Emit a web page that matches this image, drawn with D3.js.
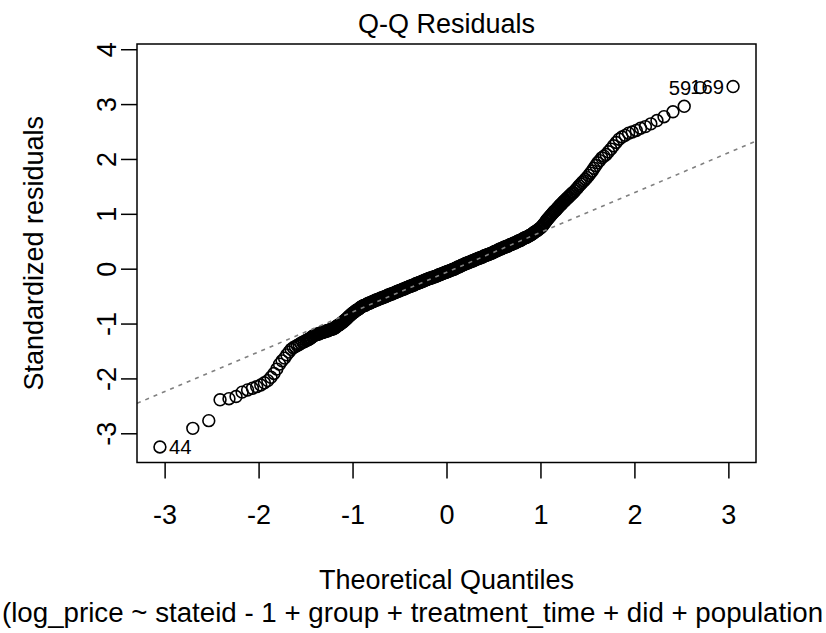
<!DOCTYPE html>
<html>
<head>
<meta charset="utf-8">
<script src="https://cdn.jsdelivr.net/npm/d3@7"></script>
<style>
  html, body { margin: 0; padding: 0; background: #fff; }
  svg { display: block; font-family: "Liberation Sans", Arial, Helvetica, sans-serif; }
</style>
</head>
<body>
<svg id="chart" width="826" height="633"></svg>
<script>
// [theoretical quantile, standardized residual]
const lowerTail = [
  [-3.05,-3.25],[-2.70,-2.91],[-2.53,-2.77],[-2.41,-2.39],[-2.315,-2.37],[-2.24,-2.33],[-2.175,-2.25],[-2.117,-2.21],[-2.065,-2.18],[-2.02,-2.15],
  [-1.977,-2.12],[-1.938,-2.08],[-1.902,-2.04],[-1.868,-1.98],[-1.836,-1.91],[-1.806,-1.83],[-1.777,-1.74],[-1.75,-1.68],[-1.724,-1.63],[-1.70,-1.57],
  [-1.676,-1.52],[-1.653,-1.47],[-1.631,-1.44],[-1.609,-1.42],[-1.589,-1.40],[-1.569,-1.38],[-1.55,-1.36],[-1.531,-1.34],[-1.513,-1.33],[-1.495,-1.31]
];
const coreLow = [
  [-1.48,-1.30],[-1.47,-1.29],[-1.46,-1.28],[-1.45,-1.27],[-1.44,-1.26],[-1.43,-1.24],[-1.42,-1.23],[-1.41,-1.22],[-1.40,-1.21],
  [-1.39,-1.20],[-1.38,-1.20],[-1.37,-1.19],[-1.36,-1.19],[-1.35,-1.18],[-1.34,-1.17],[-1.33,-1.17],[-1.32,-1.16],[-1.31,-1.16],[-1.30,-1.15],
  [-1.29,-1.14],[-1.28,-1.14],[-1.27,-1.13],[-1.26,-1.13],[-1.25,-1.12],[-1.24,-1.11],[-1.23,-1.11],[-1.22,-1.10],[-1.21,-1.10],[-1.20,-1.09],
  [-1.19,-1.08],[-1.18,-1.07],[-1.17,-1.05],[-1.16,-1.04],[-1.15,-1.03],[-1.14,-1.02],[-1.13,-1.01],[-1.12,-0.99],[-1.11,-0.98],[-1.10,-0.97],
  [-1.09,-0.95],[-1.08,-0.94],[-1.07,-0.92],[-1.06,-0.91],[-1.05,-0.89],[-1.04,-0.87],[-1.03,-0.86],[-1.02,-0.84],[-1.01,-0.83],[-1.00,-0.81],
  [-0.99,-0.80],[-0.98,-0.79],[-0.97,-0.77],[-0.96,-0.76],[-0.95,-0.75],[-0.94,-0.74],[-0.93,-0.73],[-0.92,-0.71],[-0.91,-0.70],[-0.90,-0.69],
  [-0.89,-0.68],[-0.88,-0.67],[-0.87,-0.67],[-0.86,-0.66],[-0.85,-0.65],[-0.84,-0.64],[-0.83,-0.63],[-0.82,-0.63],[-0.81,-0.62],[-0.80,-0.61],
  [-0.79,-0.60],[-0.78,-0.60],[-0.77,-0.59],[-0.76,-0.58],[-0.75,-0.57],[-0.74,-0.57],[-0.73,-0.56],[-0.72,-0.55],[-0.71,-0.55],[-0.70,-0.54],
  [-0.69,-0.53],[-0.68,-0.53],[-0.67,-0.52],[-0.66,-0.51],[-0.65,-0.51],[-0.64,-0.50],[-0.63,-0.49],[-0.62,-0.48],[-0.61,-0.48],[-0.60,-0.47],
  [-0.59,-0.46],[-0.58,-0.46],[-0.57,-0.45],[-0.56,-0.44],[-0.55,-0.44],[-0.54,-0.43],[-0.53,-0.42],[-0.52,-0.41],[-0.51,-0.41],[-0.50,-0.40],
  [-0.49,-0.39],[-0.48,-0.39],[-0.47,-0.38],[-0.46,-0.37],[-0.45,-0.37],[-0.44,-0.36],[-0.43,-0.35],[-0.42,-0.34],[-0.41,-0.34],[-0.40,-0.33],
  [-0.39,-0.32],[-0.38,-0.32],[-0.37,-0.31],[-0.36,-0.30],[-0.35,-0.30],[-0.34,-0.29],[-0.33,-0.28],[-0.32,-0.27],[-0.31,-0.27],[-0.30,-0.26],
  [-0.29,-0.25],[-0.28,-0.25],[-0.27,-0.24],[-0.26,-0.23],[-0.25,-0.23],[-0.24,-0.22],[-0.23,-0.21],[-0.22,-0.20],[-0.21,-0.20],[-0.20,-0.19],
  [-0.19,-0.18],[-0.18,-0.18],[-0.17,-0.17],[-0.16,-0.17],[-0.15,-0.16],[-0.14,-0.15],[-0.13,-0.15],[-0.12,-0.14],[-0.11,-0.14],[-0.10,-0.13],
  [-0.09,-0.12],[-0.08,-0.11],[-0.07,-0.11],[-0.06,-0.10],[-0.05,-0.09],[-0.04,-0.09],[-0.03,-0.08],[-0.02,-0.07],[-0.01,-0.07]
];
const coreHigh = [
  [0.00,-0.06],[0.01,-0.05],[0.02,-0.05],[0.03,-0.04],[0.04,-0.03],[0.05,-0.03],[0.06,-0.02],[0.07,-0.01],[0.08,-0.01],[0.09,0.00],[0.10,0.01],
  [0.11,0.02],[0.12,0.03],[0.13,0.03],[0.14,0.04],[0.15,0.05],[0.16,0.06],[0.17,0.07],[0.18,0.07],[0.19,0.08],[0.20,0.09],
  [0.21,0.10],[0.22,0.10],[0.23,0.11],[0.24,0.12],[0.25,0.12],[0.26,0.13],[0.27,0.14],[0.28,0.14],[0.29,0.15],[0.30,0.16],
  [0.31,0.17],[0.32,0.17],[0.33,0.18],[0.34,0.19],[0.35,0.19],[0.36,0.20],[0.37,0.21],[0.38,0.21],[0.39,0.22],[0.40,0.23],
  [0.41,0.24],[0.42,0.24],[0.43,0.25],[0.44,0.26],[0.45,0.26],[0.46,0.27],[0.47,0.28],[0.48,0.28],[0.49,0.29],[0.50,0.30],
  [0.51,0.31],[0.52,0.32],[0.53,0.32],[0.54,0.33],[0.55,0.34],[0.56,0.35],[0.57,0.36],[0.58,0.36],[0.59,0.37],[0.60,0.38],
  [0.61,0.39],[0.62,0.39],[0.63,0.40],[0.64,0.41],[0.65,0.41],[0.66,0.42],[0.67,0.43],[0.68,0.44],[0.69,0.44],[0.70,0.45],
  [0.71,0.46],[0.72,0.47],[0.73,0.47],[0.74,0.48],[0.75,0.49],[0.76,0.50],[0.77,0.51],[0.78,0.51],[0.79,0.52],[0.80,0.53],
  [0.81,0.54],[0.82,0.55],[0.83,0.56],[0.84,0.57],[0.85,0.57],[0.86,0.58],[0.87,0.59],[0.88,0.60],[0.89,0.61],[0.90,0.62],
  [0.91,0.63],[0.92,0.64],[0.93,0.66],[0.94,0.67],[0.95,0.68],[0.96,0.69],[0.97,0.70],[0.98,0.72],[0.99,0.73],[1.00,0.74],
  [1.01,0.76],[1.02,0.78],[1.03,0.80],[1.04,0.82],[1.05,0.84],[1.06,0.87],[1.07,0.89],[1.08,0.91],[1.09,0.93],[1.10,0.95],
  [1.11,0.97],[1.12,0.99],[1.13,1.01],[1.14,1.03],[1.15,1.05],[1.16,1.06],[1.17,1.08],[1.18,1.10],[1.19,1.12],[1.20,1.14],
  [1.21,1.16],[1.22,1.17],[1.23,1.19],[1.24,1.21],[1.25,1.23],[1.26,1.24],[1.27,1.26],[1.28,1.28],[1.29,1.29],[1.30,1.31],
  [1.31,1.33],[1.32,1.34],[1.33,1.36],[1.34,1.38],[1.35,1.39]
];
const upperTail = [
  [1.367,1.42],[1.382,1.45],[1.397,1.48],[1.412,1.51],[1.428,1.54],[1.444,1.57],[1.461,1.60],[1.478,1.63],[1.495,1.66],[1.513,1.70],
  [1.531,1.74],[1.55,1.78],[1.569,1.83],[1.589,1.88],[1.609,1.93],[1.631,1.97],[1.653,2.02],[1.676,2.05],[1.70,2.08],[1.724,2.13],
  [1.75,2.18],[1.777,2.24],[1.806,2.30],[1.836,2.36],[1.868,2.40],[1.902,2.43],[1.938,2.47],[1.977,2.49],[2.02,2.52],[2.065,2.56],
  [2.117,2.59],[2.175,2.64],[2.24,2.70],[2.315,2.77],[2.41,2.86],[2.53,2.96],[2.70,3.30],[3.05,3.32]
];

// labelled extreme observations
const idNames = ["44", "59", "169"];
const idPoints = [[-3.05,-3.25],[2.70,3.30],[3.05,3.32]];

// qqline goes through the quartiles
const qqLineQ = [-0.674, 0.674];
const qqLineR = [-0.554, 0.424];

const xTicks = [-3, -2, -1, 0, 1, 2, 3];
const yTicks = [-3, -2, -1, 0, 1, 2, 3, 4];

const title = "Q-Q Residuals";
const xTitle = "Theoretical Quantiles";
const yTitle = "Standardized residuals";
const subTitle = "(log_price ~ stateid - 1 + group + treatment_time + did + population";

const box = { left: 137, right: 756, top: 44, bottom: 462.5 };
const fontSize = 27;
const idFontSize = 20.25;

const points = lowerTail.concat(coreLow, coreHigh, upperTail);

// limits the way plot.lm does: extra room on top for the labels, then 4% each side
const xr = d3.extent(points, (d) => d[0]);
const yr = d3.extent(points, (d) => d[1]);
yr[1] += (yr[1] - yr[0]) * 0.075;
const pad = ([a, b]) => [a - (b - a) * 0.04, b + (b - a) * 0.04];

const x = d3.scaleLinear().domain(pad(xr)).range([box.left, box.right]);
const y = d3.scaleLinear().domain(pad(yr)).range([box.bottom, box.top]);

const svg = d3.select("#chart");

svg.append("defs")
    .append("clipPath")
    .attr("id", "plot-clip")
    .append("rect")
    .attr("x", box.left)
    .attr("y", box.top)
    .attr("width", box.right - box.left)
    .attr("height", box.bottom - box.top);

// points
svg.append("g")
    .attr("class", "points")
    .selectAll("circle")
    .data(points)
    .enter()
    .append("circle")
    .attr("cx", (d) => x(d[0]))
    .attr("cy", (d) => y(d[1]))
    .attr("r", 5.9)
    .attr("fill", "none")
    .attr("stroke", "#000")
    .attr("stroke-width", 1.6);

// reference line
const slope = (qqLineR[1] - qqLineR[0]) / (qqLineQ[1] - qqLineQ[0]);
const intercept = qqLineR[0] - slope * qqLineQ[0];
const [x0, x1] = x.domain();

svg.append("line")
    .attr("clip-path", "url(#plot-clip)")
    .attr("x1", x(x0))
    .attr("y1", y(intercept + slope * x0))
    .attr("x2", x(x1))
    .attr("y2", y(intercept + slope * x1))
    .attr("stroke", "#808080")
    .attr("stroke-width", 1.6)
    .attr("stroke-dasharray", "4,5");

// id labels
idPoints.forEach((p, i) => {
    const left = p[0] < 0;
    svg.append("text")
        .attr("x", x(p[0]) + (left ? 9 : -9))
        .attr("y", y(p[1]) + idFontSize * 0.36)
        .attr("text-anchor", left ? "start" : "end")
        .attr("font-size", idFontSize)
        .text(idNames[i]);
});

// box
svg.append("rect")
    .attr("x", box.left)
    .attr("y", box.top)
    .attr("width", box.right - box.left)
    .attr("height", box.bottom - box.top)
    .attr("fill", "none")
    .attr("stroke", "#000")
    .attr("stroke-width", 1.5);

// axes
const styleAxis = (g) => {
    g.select(".domain").remove();
    g.selectAll(".tick line").attr("stroke-width", 1.5);
    g.selectAll(".tick text").attr("font-size", fontSize).attr("fill", "#000");
    g.attr("font-family", null).attr("font-size", null);
};

svg.append("g")
    .attr("transform", `translate(0,${box.bottom})`)
    .call(d3.axisBottom(x).tickValues(xTicks).tickSize(16).tickPadding(26).tickFormat((d) => String(d)))
    .call(styleAxis);

svg.append("g")
    .attr("transform", `translate(${box.left},0)`)
    .call(d3.axisLeft(y).tickValues(yTicks).tickSize(16).tickFormat((d) => String(d)))
    .call(styleAxis)
    .selectAll(".tick text")
    .attr("x", 0)
    .attr("dy", null)
    .attr("text-anchor", "middle")
    .attr("transform", "translate(-21,0) rotate(-90)");

// titles
const cx = (box.left + box.right) / 2;

svg.append("text")
    .attr("x", cx)
    .attr("y", 33)
    .attr("text-anchor", "middle")
    .attr("font-size", fontSize)
    .text(title);

svg.append("text")
    .attr("x", cx)
    .attr("y", 589)
    .attr("text-anchor", "middle")
    .attr("font-size", fontSize)
    .text(xTitle);

svg.append("text")
    .attr("x", 2)
    .attr("y", 622)
    .attr("font-size", 27.7)
    .text(subTitle);

svg.append("text")
    .attr("transform", `translate(43,${(box.top + box.bottom) / 2}) rotate(-90)`)
    .attr("text-anchor", "middle")
    .attr("font-size", fontSize)
    .text(yTitle);
</script>
</body>
</html>
